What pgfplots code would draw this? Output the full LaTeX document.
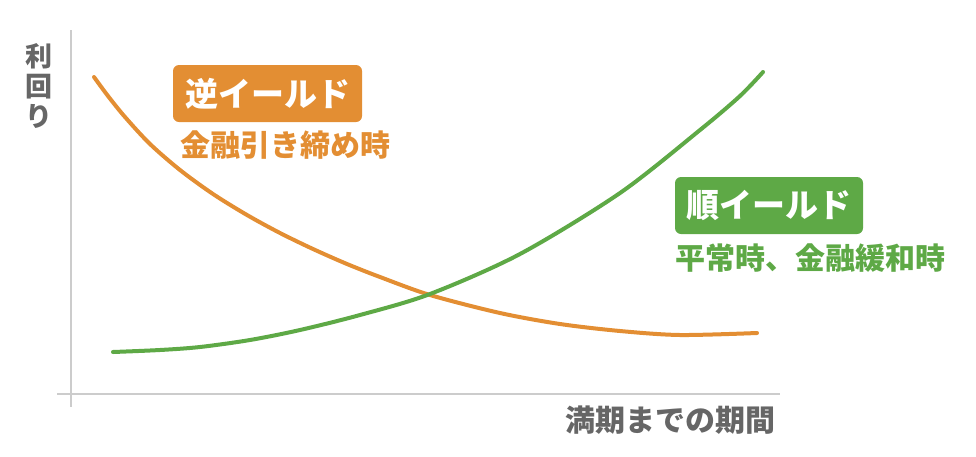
\documentclass[border=0pt]{standalone}
\usepackage{pgfplots}
\pgfplotsset{compat=1.18}
\usepackage{fontspec}
\setmainfont{Noto Sans CJK JP}
\definecolor{orng}{HTML}{E38E33}
\definecolor{grn}{HTML}{5EA946}
\definecolor{txtgray}{HTML}{666666}
\definecolor{axgray}{HTML}{CCCCCC}
\begin{document}
\begin{tikzpicture}
\begin{axis}[
  at={(0,0)}, anchor=south west,
  scale only axis, width=976pt, height=456pt,
  xmin=0, xmax=976, ymin=0, ymax=456, y dir=reverse,
  hide axis, clip=false]
\path (rel axis cs:0,0) rectangle (rel axis cs:1,1);
% axes
\draw[axgray, line width=2pt] (axis cs:71,30) -- (axis cs:71,407);
\draw[axgray, line width=2pt] (axis cs:57,394) -- (axis cs:780,394);
% inverted yield curve
\addplot[orng, line width=4pt, smooth, line cap=round] coordinates {
(94,77) (108,96) (125,117) (150,144) (180,170) (213,194) (247,215) (280,233)
(313,249) (347,264) (380,277) (430,295) (500,313) (560,324) (620,331) (680,335) (757,333)};
% normal yield curve
\addplot[grn, line width=4pt, smooth, line cap=round] coordinates {
(113,352) (160,350) (200,347) (250,340) (300,330) (360,315) (430,294) (520,254)
(620,193) (700,130) (740,96) (763,72)};
% labels
\node[txtgray, font=\bfseries\fontsize{27}{30}\selectfont, align=center, inner sep=0pt]
  at (axis cs:39,86) {利\\回\\り};
\node[txtgray, font=\bfseries\fontsize{30}{30}\selectfont, inner sep=0pt]
  at (axis cs:670,420) {満期までの期間};
\fill[orng, rounded corners=6pt] (axis cs:173,65) rectangle (axis cs:362,122);
\node[white, font=\bfseries\fontsize{33}{34}\selectfont, inner sep=0pt]
  at (axis cs:267.5,93.5) {逆イールド};
\node[orng, font=\bfseries\fontsize{30}{30}\selectfont, inner sep=0pt]
  at (axis cs:285,145) {金融引き締め時};
\fill[grn, rounded corners=6pt] (axis cs:675,177) rectangle (axis cs:863,234);
\node[white, font=\bfseries\fontsize{33}{34}\selectfont, inner sep=0pt]
  at (axis cs:769,205.5) {順イールド};
\node[grn, font=\bfseries\fontsize{30}{30}\selectfont, inner sep=0pt]
  at (axis cs:810,258.5) {平常時、金融緩和時};
\end{axis}
\end{tikzpicture}
\end{document}
